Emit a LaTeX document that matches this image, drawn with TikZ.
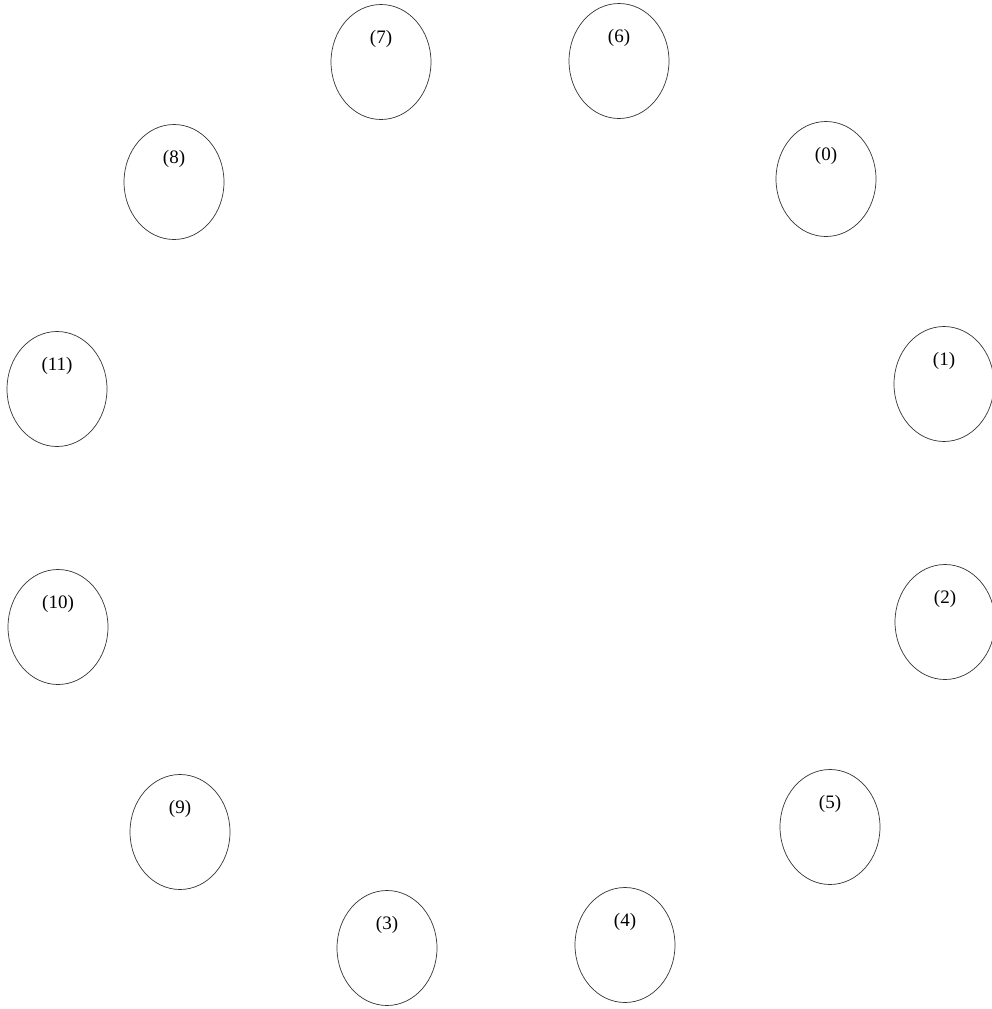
\documentclass[tikz,border=0pt]{standalone}
\usepackage{fontspec}
\setmainfont{Liberation Serif}
\usetikzlibrary{shapes.geometric}
\begin{document}
\begin{tikzpicture}[x=1pt,y=-1pt,
  cell/.style={draw=black!80, line width=0.7pt, ellipse, minimum width=100pt, minimum height=115pt, inner sep=0pt},
  tag/.style={font=\fontsize{19}{19}\selectfont, inner sep=0pt}]
\useasboundingbox (0,0) rectangle (992,1009);
\foreach \n/\x/\y in {7/381/62, 6/619/61, 0/826/179, 8/174/182, 11/57/389, 1/944/384, 10/58/627, 2/945/622, 9/180/832, 5/830/827, 3/387/948, 4/625/945}{
  \node[cell] (c\n) at (\x,\y) {};
  \node[tag] (t\n) at ([yshift=23pt]c\n.center) {(\n)};
}
\end{tikzpicture}
\end{document}
